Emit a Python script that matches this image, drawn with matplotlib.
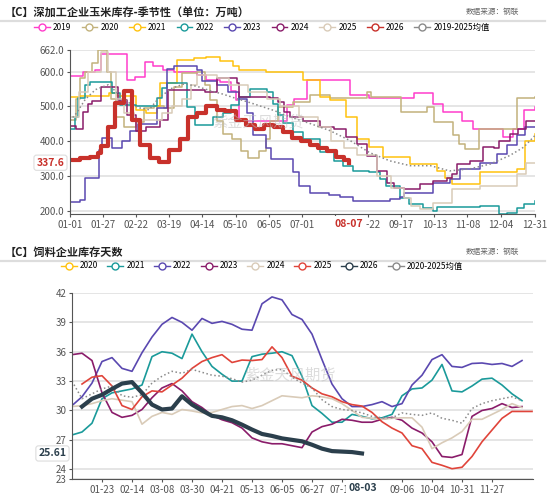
import matplotlib
matplotlib.use('Agg')
import matplotlib.pyplot as plt
from matplotlib.lines import Line2D
import matplotlib.transforms as mtransforms
import numpy as np

plt.rcParams['font.family'] = ['Noto Sans CJK SC', 'DejaVu Sans']

# %% top panel data: deep-processing corn stock (step breakpoints, day of year)
d2019 = [0, 10, 20, 24, 45, 51, 59, 65, 73, 82, 100, 107, 118, 126, 130, 133, 170, 176, 186, 220, 235, 270, 285, 293, 308, 316, 340, 348, 356, 365]
v2019 = [587, 600, 605, 651, 575, 583, 627, 616, 605, 600, 590, 575, 570, 545, 517, 459, 505, 520, 575, 532, 523, 537, 508, 484, 459, 436, 411, 436, 488, 497]
d2020 = [0, 5, 8, 12, 17, 22, 29, 32, 36, 42, 52, 58, 66, 74, 82, 88, 100, 106, 110, 115, 120, 127, 134, 140, 148, 154, 157, 163, 175, 188, 204, 233, 236, 260, 280, 286, 301, 305, 310, 321, 351, 365]
v2020 = [460, 520, 580, 600, 625, 662, 600, 520, 470, 440, 455, 495, 500, 495, 555, 595, 600, 560, 517, 459, 420, 405, 372, 352, 372, 407, 459, 498, 513, 532, 523, 541, 527, 483, 497, 455, 416, 392, 378, 436, 523, 526]
d2021 = [0, 8, 31, 37, 52, 60, 68, 71, 84, 97, 107, 118, 128, 133, 154, 183, 196, 204, 217, 225, 235, 246, 267, 288, 294, 300, 322, 351, 357, 365]
v2021 = [527, 530, 537, 530, 488, 480, 500, 567, 633, 640, 643, 630, 615, 605, 600, 575, 527, 517, 469, 407, 382, 353, 334, 314, 295, 276, 310, 320, 401, 420]
d2022 = [0, 4, 6, 12, 16, 33, 39, 52, 68, 72, 76, 92, 98, 107, 112, 120, 126, 133, 141, 155, 159, 163, 167, 175, 183, 196, 207, 214, 222, 235, 243, 248, 259, 266, 277, 285, 288, 322, 337, 343, 351, 356, 365]
v2022 = [436, 470, 523, 560, 569, 537, 503, 500, 523, 552, 567, 498, 445, 445, 469, 480, 503, 527, 551, 540, 508, 474, 451, 425, 407, 367, 343, 329, 314, 310, 291, 270, 237, 218, 208, 198, 209, 212, 190, 193, 208, 218, 227]
d2023 = [0, 8, 12, 18, 23, 25, 33, 41, 47, 53, 68, 76, 82, 100, 104, 115, 124, 133, 139, 144, 154, 158, 175, 180, 188, 203, 212, 222, 251, 259, 262, 285, 298, 306, 322, 335, 343, 351, 357, 365]
v2023 = [225, 230, 295, 295, 375, 410, 380, 400, 428, 450, 494, 608, 617, 605, 572, 562, 540, 520, 480, 416, 381, 349, 310, 272, 251, 245, 240, 228, 233, 240, 251, 280, 291, 320, 338, 364, 390, 416, 440, 441]
d2024 = [0, 5, 10, 14, 17, 24, 38, 45, 52, 60, 71, 77, 106, 115, 131, 133, 157, 163, 168, 173, 183, 196, 207, 217, 225, 233, 241, 249, 254, 262, 275, 285, 296, 300, 304, 314, 324, 333, 337, 345, 352, 358, 365]
v2024 = [442, 435, 483, 508, 515, 556, 517, 475, 430, 440, 460, 546, 540, 580, 568, 527, 523, 513, 483, 469, 459, 440, 435, 411, 392, 358, 314, 280, 266, 262, 276, 285, 295, 304, 334, 343, 382, 380, 401, 419, 436, 459, 459]
d2025 = [0, 7, 14, 24, 30, 36, 42, 50, 60, 72, 80, 88, 95, 100, 115, 125, 140, 155, 165, 180, 195, 205, 215, 225, 241, 252, 262, 268, 275, 285, 300, 322, 351, 358, 365]
v2025 = [470, 540, 600, 655, 600, 520, 480, 460, 460, 480, 500, 520, 560, 590, 580, 560, 540, 520, 500, 470, 440, 400, 380, 360, 300, 266, 236, 212, 204, 222, 262, 271, 306, 338, 338]
d2026 = [0, 8, 16, 22, 24, 30, 35, 42, 49, 55, 63, 70, 78, 86, 93, 100, 107, 115, 122, 130, 138, 145, 152, 160, 167, 174, 181, 188, 195, 202, 209, 215, 219]
v2026 = [345, 350, 355, 365, 385, 440, 510, 545, 460, 390, 350, 340, 375, 405, 470, 480, 500, 490, 485, 460, 445, 435, 445, 440, 425, 410, 400, 390, 380, 370, 355, 345, 337.6]
d_mean = [0, 5, 12, 20, 30, 40, 48, 55, 62, 70, 80, 90, 100, 110, 120, 130, 140, 150, 160, 173, 188, 204, 220, 235, 251, 267, 283, 298, 314, 330, 345, 356, 365]
v_mean = [459, 480, 520, 548, 562, 530, 505, 495, 490, 525, 552, 565, 557, 545, 535, 523, 512, 500, 488, 469, 451, 430, 401, 367, 343, 329, 329, 314, 320, 334, 358, 382, 416]

top_ticks = [0, 26, 52, 78, 104, 130, 156, 182, 208, 234, 260, 286, 312, 338, 365]
top_labels = ['01-01', '01-27', '02-22', '03-19', '04-14', '05-10', '06-05', '07-01', '',
              '08-22', '09-17', '10-13', '11-08', '12-04', '12-31']
top_yticks = [200, 300, 400, 500, 600, 662]

# %% bottom panel data: feed enterprise stock days (weekly index)
f2021 = [27.5, 27.8, 28.7, 31.2, 31.8, 32.0, 32.2, 32.6, 35.5, 36.0, 35.85, 35.3, 37.8, 36.0, 34.5, 33.7,
         33.0, 33.0, 35.5, 35.75, 35.85, 36.0, 35.6, 33.5, 30.5, 29.7, 28.8, 28.8, 29.6, 29.4, 29.15, 29.25,
         29.6, 31.5, 32.2, 32.3, 33.1, 34.7, 32.0, 31.9, 32.5, 33.2, 33.3, 32.6, 31.7, 31.0]
f2022 = [30.5, 31.4, 32.8, 35.0, 35.4, 34.3, 34.0, 35.9, 37.5, 38.8, 39.5, 39.0, 38.2, 39.4, 38.9, 39.1,
         38.8, 38.3, 38.2, 40.9, 41.6, 41.3, 39.8, 39.3, 37.8, 35.2, 32.7, 31.2, 30.4, 30.4, 30.6, 30.9,
         30.4, 30.7, 32.6, 33.6, 35.2, 35.7, 34.5, 34.4, 34.8, 34.85, 34.7, 34.8, 34.5, 35.1]
f2023 = [35.7, 35.85, 35.1, 31.8, 29.8, 29.3, 29.5, 30.1, 31.3, 32.3, 32.75, 32.0, 30.9, 30.3, 29.5, 29.05,
         28.75, 28.2, 27.2, 26.8, 26.6, 26.6, 26.4, 26.2, 27.8, 28.35, 28.6, 29.1, 29.0, 28.8, 28.8, 29.1,
         29.3, 29.0, 28.2, 27.7, 26.8, 25.3, 25.2, 25.5, 29.4, 30.0, 30.2, 30.7, 30.3, 30.4]
f2024 = [30.4, 30.5, 30.7, 31.0, 31.2, 31.05, 30.9, 28.6, 29.4, 29.8, 29.6, 30.1, 29.95, 29.75, 29.8, 30.1,
         30.4, 30.5, 30.2, 30.5, 31.0, 31.5, 31.4, 31.3, 31.5, 31.4, 31.2, 30.7, 30.0, 29.3, 29.2, 29.1,
         29.2, 29.25, 29.25, 28.3, 26.1, 26.7, 27.2, 27.85, 29.1, 29.1, 29.6, 30.1, 30.7, 30.3]
f2025 = [32.7, 33.4, 33.55, 32.5, 30.5, 30.1, 31.4, 32.0, 31.9, 32.6, 33.3, 34.3, 35.0, 35.4, 35.7, 34.9,
         35.15, 35.1, 35.2, 36.5, 35.4, 33.5, 33.1, 32.3, 31.7, 31.4, 30.9, 30.6, 30.45, 29.8, 28.85, 28.2,
         27.7, 26.4, 26.1, 24.7, 24.4, 24.05, 24.2, 25.3, 26.8, 28.0, 29.2, 29.9, 29.9, 29.9]
f2026 = [30.4, 31.2, 31.6, 32.2, 32.75, 32.9, 31.8, 30.6, 30.1, 30.2, 31.45, 30.6, 30.0, 29.45, 29.3, 29.0,
         28.55, 28.05, 27.6, 27.4, 27.15, 27.0, 26.85, 26.5, 26.1, 25.85, 25.8, 25.75, 25.61]
f_mean = [33.0, 31.2, 31.7, 32.2, 32.5, 31.5, 31.35, 31.6, 32.8, 33.5, 34.0, 33.8, 34.2, 33.9, 33.6, 33.5,
          33.25, 32.9, 33.1, 33.6, 34.1, 34.2, 33.4, 32.8, 32.3, 31.1, 30.4, 30.1, 30.0, 29.75, 29.4, 29.25,
          29.25, 29.75, 29.6, 29.5, 29.75, 29.2, 29.0, 28.7, 30.2, 30.7, 31.0, 31.2, 31.4, 31.0]

bot_ticks = [3, 6, 9, 12, 15, 18, 21, 24, 27, 33, 36, 39, 42]
bot_labels = ['01-23', '02-14', '03-08', '03-30', '04-21', '05-13', '06-05', '06-27', '07-19',
              '09-06', '10-04', '10-31', '11-27']
bot_yticks = [23, 24, 27, 30, 33, 36, 39, 42]

# %% colours
c_pink, c_khaki, c_yellow, c_teal = '#ff3dcb', '#c2b27c', '#ffc20e', '#1a9a9a'
c_indigo, c_plum, c_beige, c_red = '#5a48b0', '#8a1c6a', '#d9cbb8', '#c8312b'
c_mean, c_red2, c_slate = '#8a8a8a', '#e0443a', '#2b3f4c'

fig = plt.figure(figsize=(5.5, 4.94), dpi=100)


def style_axis(ax):
    for s in ['top', 'right']:
        ax.spines[s].set_visible(False)
    ax.spines['left'].set_color('#555555')
    ax.spines['bottom'].set_color('#555555')
    ax.tick_params(colors='#555555', labelsize=7, length=2.5, width=0.8, pad=1.5)
    ax.grid(axis='y', color='#e3e3e3', lw=1.3)
    ax.set_axisbelow(True)


def header(y_title, y_line, title):
    fig.text(5 / 550, 1 - y_title / 494, title, fontsize=8, fontweight='bold', va='center', color='#222222')
    fig.text(466 / 550, 1 - y_title / 494, '数据来源：钢联', fontsize=5.5, va='center', color='#666666')
    fig.add_artist(Line2D([0, 0.99], [1 - y_line / 494] * 2, color='#dddddd', lw=1.6))


def legend_handles(colors, styles):
    return [Line2D([], [], color=c, ls=s, lw=1, marker='o', markersize=5,
                   markerfacecolor='white', markeredgecolor=c) for c, s in zip(colors, styles)]


# %% top panel
header(12, 21, '【C】深加工企业玉米库存-季节性（单位：万吨）')
ax1 = fig.add_axes([70 / 550, 1 - 214 / 494, 465 / 550, 164 / 494])
style_axis(ax1)
top_series = [(d2019, v2019, c_pink), (d2020, v2020, c_khaki), (d2021, v2021, c_yellow),
              (d2022, v2022, c_teal), (d2023, v2023, c_indigo), (d2024, v2024, c_plum),
              (d2025, v2025, c_beige)]
for d, v, c in top_series:
    ax1.step(d, v, where='post', color=c, lw=1.1)
ax1.plot(d_mean, v_mean, color=c_mean, ls=':', lw=1.1)
ax1.step(d2026, v2026, where='post', color=c_red, lw=3)
ax1.set_xlim(0, 365)
ax1.set_ylim(190, 662)
ax1.set_xticks(top_ticks)
ax1.set_xticklabels(top_labels)
ax1.set_yticks(top_yticks)
ax1.set_yticklabels(['{:.1f}'.format(t) for t in top_yticks])
ax1.text(148, 456, '紫金天风期货', fontsize=11, color='#bbbbbb', alpha=0.5, ha='center', va='center')
tr1 = mtransforms.blended_transform_factory(ax1.transAxes, ax1.transData)
ax1.text(-0.012, v2026[-1], '{:.1f}'.format(v2026[-1]), transform=tr1, ha='right', va='center',
         fontsize=7.5, fontweight='bold', color=c_red, zorder=6, clip_on=False,
         bbox=dict(boxstyle='round,pad=0.25', fc='white', ec='#dddddd', lw=0.8))
tr1x = mtransforms.blended_transform_factory(ax1.transData, ax1.transAxes)
ax1.text(d2026[-1], -0.03, '08-07', transform=tr1x, ha='center', va='top', fontsize=7.5,
         fontweight='bold', color=c_red, zorder=6, clip_on=False,
         bbox=dict(boxstyle='square,pad=0.3', fc='white', ec='none'))

top_colors = [c_pink, c_khaki, c_yellow, c_teal, c_indigo, c_plum, c_beige, c_red, c_mean]
top_names = ['2019', '2020', '2021', '2022', '2023', '2024', '2025', '2026', '2019-2025均值']
fig.legend(legend_handles(top_colors, ['-'] * 9), top_names, loc='center', ncol=9,
           bbox_to_anchor=(262 / 550, 1 - 27 / 494), frameon=False, fontsize=6,
           handlelength=1.9, handletextpad=0.4, columnspacing=1.2)

# %% bottom panel
header(252, 261, '【C】饲料企业库存天数')
ax2 = fig.add_axes([72 / 550, 1 - 479 / 494, 461 / 550, 186 / 494])
style_axis(ax2)
weeks = np.arange(len(f2021))
ax2.plot(weeks, f2021, color=c_teal, lw=1.2)
ax2.plot(weeks, f2022, color=c_indigo, lw=1.2)
ax2.plot(weeks, f2023, color=c_plum, lw=1.2)
ax2.plot(weeks, f2024, color=c_beige, lw=1.2)
ax2.plot(weeks + 1, f2025, color=c_red2, lw=1.2)
ax2.plot(weeks, f_mean, color=c_mean, ls=':', lw=1.1)
ax2.plot(weeks[1:len(f2026) + 1], f2026, color=c_slate, lw=3)
ax2.set_xlim(0, 46.1)
ax2.set_ylim(23, 42)
ax2.set_xticks(bot_ticks)
ax2.set_xticklabels(bot_labels)
ax2.set_yticks(bot_yticks)
ax2.text(21.8, 33.6, '紫金天风期货', fontsize=11, color='#bbbbbb', alpha=0.5, ha='center', va='center')
tr2 = mtransforms.blended_transform_factory(ax2.transAxes, ax2.transData)
ax2.text(-0.012, f2026[-1], '{:.2f}'.format(f2026[-1]), transform=tr2, ha='right', va='center',
         fontsize=7.5, fontweight='bold', color=c_slate, zorder=6, clip_on=False,
         bbox=dict(boxstyle='round,pad=0.25', fc='white', ec='#dddddd', lw=0.8))
tr2x = mtransforms.blended_transform_factory(ax2.transData, ax2.transAxes)
ax2.text(len(f2026) + 0.1, -0.02, '08-03', transform=tr2x, ha='center', va='top', fontsize=7.5,
         fontweight='bold', color=c_slate, zorder=6, clip_on=False,
         bbox=dict(boxstyle='square,pad=0.3', fc='white', ec='none'))

bot_colors = [c_yellow, c_teal, c_indigo, c_plum, c_beige, c_red2, c_slate, c_mean]
bot_names = ['2020', '2021', '2022', '2023', '2024', '2025', '2026', '2020-2025均值']
fig.legend(legend_handles(bot_colors, ['-'] * 8), bot_names, loc='center', ncol=8,
           bbox_to_anchor=(262 / 550, 1 - 266 / 494), frameon=False, fontsize=6,
           handlelength=1.9, handletextpad=0.4, columnspacing=1.1)

fig.savefig('out.png', dpi=100)
